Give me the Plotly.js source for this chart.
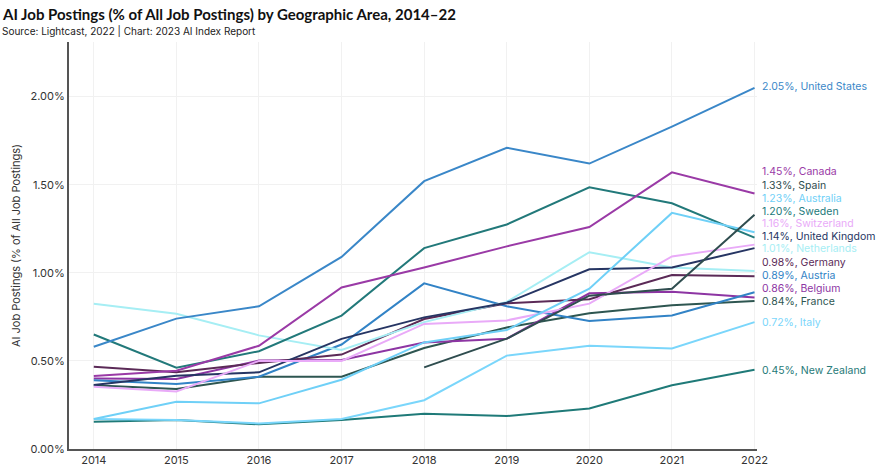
<!DOCTYPE html>
<html>
<head>
<meta charset="utf-8">
<script src="https://cdn.plot.ly/plotly-3.0.1.min.js"></script>
<style>html,body{margin:0;padding:0;background:#fff;}#chart{width:890px;height:476px;}</style>
</head>
<body>
<div id="chart"></div>
<script>
const years = [2014, 2015, 2016, 2017, 2018, 2019, 2020, 2021, 2022];
const unitedStates = [0.58, 0.74, 0.81, 1.09, 1.52, 1.71, 1.62, 1.83, 2.05];
const canada = [0.415, 0.444, 0.586, 0.917, 1.03, 1.15, 1.26, 1.57, 1.45];
const spain = [null, null, null, null, 0.463, 0.626, 0.87, 0.91, 1.33];
const australia = [0.17, 0.268, 0.259, 0.393, 0.605, 0.675, 0.91, 1.34, 1.23];
const sweden = [0.65, 0.461, 0.555, 0.757, 1.14, 1.274, 1.485, 1.395, 1.20];
const switzerland = [0.353, 0.327, 0.50, 0.50, 0.71, 0.73, 0.825, 1.093, 1.16];
const unitedKingdom = [0.363, 0.416, 0.435, 0.625, 0.747, 0.83, 1.02, 1.03, 1.14];
const netherlands = [0.825, 0.768, 0.645, 0.562, 0.72, 0.835, 1.117, 1.03, 1.01];
const germany = [0.467, 0.435, 0.488, 0.536, 0.738, 0.827, 0.85, 0.987, 0.98];
const austria = [0.39, 0.369, 0.41, 0.593, 0.94, 0.81, 0.726, 0.758, 0.89];
const belgium = [0.40, 0.397, 0.502, 0.505, 0.605, 0.626, 0.884, 0.892, 0.86];
const france = [0.362, 0.34, 0.41, 0.41, 0.573, 0.69, 0.77, 0.816, 0.84];
const italy = [0.17, 0.165, 0.145, 0.17, 0.277, 0.53, 0.586, 0.57, 0.72];
const newZealand = [0.155, 0.164, 0.14, 0.165, 0.20, 0.187, 0.23, 0.362, 0.45];

const seriesNames = ["United States", "Canada", "Spain", "Australia", "Sweden", "Switzerland", "United Kingdom", "Netherlands", "Germany", "Austria", "Belgium", "France", "Italy", "New Zealand"];
const seriesValues = [unitedStates, canada, spain, australia, sweden, switzerland, unitedKingdom, netherlands, germany, austria, belgium, france, italy, newZealand];
const seriesColors = ["#3a87c8", "#9a3aa6", "#2f4d4f", "#6fd0f7", "#22797a", "#e9aaf8", "#263563", "#a6eef4", "#5b2a57", "#3283c6", "#8d35a3", "#2e5651", "#7ad6fb", "#1f7a78"];
// label vertical positions (spread to avoid overlap), in axis units
const labelPos = [2.056, 1.574, 1.494, 1.42, 1.347, 1.279, 1.205, 1.137, 1.057, 0.983, 0.909, 0.835, 0.716, 0.444];

const font = "Inter, 'Open Sans', sans-serif";
const traces = seriesNames.map((n, i) => ({
  x: years, y: seriesValues[i], name: n, type: 'scatter', mode: 'lines',
  line: {color: seriesColors[i], width: 2}, connectgaps: false, hoverinfo: 'x+y+name'
})).reverse();

const annotations = seriesNames.map((n, i) => {
  const v = seriesValues[i][seriesValues[i].length - 1];
  return {
    x: years[years.length - 1], xref: 'x', y: labelPos[i], yref: 'y',
    xanchor: 'left', yanchor: 'middle', xshift: 6, showarrow: false, borderpad: 0,
    text: v.toFixed(2) + '%, ' + n,
    font: {family: font, size: 10.5, color: seriesColors[i]}
  };
});
annotations.push({
  text: '<b>AI Job Postings (% of All Job Postings) by Geographic Area, 2014–22</b>',
  xref: 'paper', yref: 'paper', x: -69/688, y: 1 + 28/407, xanchor: 'left', yanchor: 'middle',
  showarrow: false, font: {family: "Lato, sans-serif", size: 15, color: '#111'}
});
annotations.push({
  text: 'Source: Lightcast, 2022 | Chart: 2023 AI Index Report',
  xref: 'paper', yref: 'paper', x: -69/688, y: 1 + 11/407, xanchor: 'left', yanchor: 'middle',
  showarrow: false, font: {family: font, size: 10, color: '#222'}
});

const layout = {
  width: 890, height: 476,
  margin: {l: 69, r: 133, t: 42, b: 27},
  paper_bgcolor: '#fff', plot_bgcolor: '#fff',
  showlegend: false,
  font: {family: font, size: 11, color: '#333'},
  xaxis: {
    range: [2013.7, 2022.03], tickvals: years, ticktext: years.map(String),
    showgrid: true, gridcolor: '#f1f1f1', gridwidth: 1,
    showline: true, linecolor: '#555', linewidth: 2, zeroline: false,
    ticks: '', tickfont: {family: font, size: 11, color: '#333'}
  },
  yaxis: {
    range: [0, 2.31], dtick: 0.5, tick0: 0, tickformat: '.2f', ticksuffix: '%',
    showgrid: true, gridcolor: '#f1f1f1', gridwidth: 1,
    showline: true, linecolor: '#555', linewidth: 2, zeroline: false,
    ticks: '', tickfont: {family: font, size: 11, color: '#333'},
    title: {text: 'AI Job Postings (% of All Job Postings)', font: {family: font, size: 11, color: '#333'}, standoff: 8}
  },
  annotations: annotations
};

Plotly.newPlot('chart', traces, layout, {displayModeBar: false, responsive: false});
</script>
</body>
</html>
